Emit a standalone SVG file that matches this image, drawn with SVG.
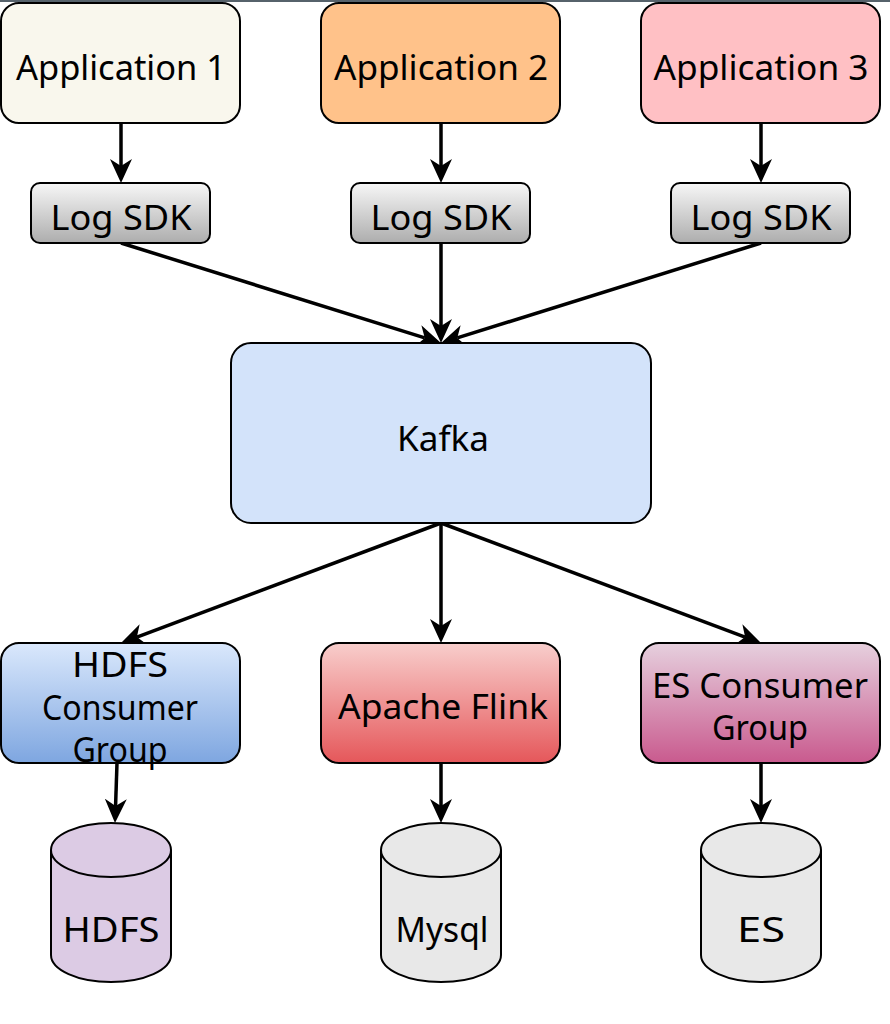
<svg xmlns="http://www.w3.org/2000/svg" width="890" height="1024" viewBox="0 0 890 1024">
<defs>
<linearGradient id="gSdk" x1="0" y1="0" x2="0" y2="1"><stop offset="0" stop-color="#f7f7f7"/><stop offset="1" stop-color="#adadad"/></linearGradient>
<linearGradient id="gHdfs" x1="0" y1="0" x2="0" y2="1"><stop offset="0" stop-color="#dae8fc"/><stop offset="1" stop-color="#7ea6e0"/></linearGradient>
<linearGradient id="gFlink" x1="0" y1="0" x2="0" y2="1"><stop offset="0" stop-color="#f8cecc"/><stop offset="1" stop-color="#e5575a"/></linearGradient>
<linearGradient id="gEs" x1="0" y1="0" x2="0" y2="1"><stop offset="0" stop-color="#e6d0de"/><stop offset="1" stop-color="#c95a8e"/></linearGradient>
<marker id="arr" markerUnits="userSpaceOnUse" viewBox="0 0 24 22" markerWidth="24" markerHeight="22" refX="7" refY="11" orient="auto">
<path d="M0,0 L24,11 L0,22 L7,11 Z" fill="#000"/>
</marker>
</defs>
<style>
.box{stroke:#000;stroke-width:2}
.t{font-family:"Noto Sans","DejaVu Sans",sans-serif;font-size:34px;fill:#000;text-anchor:middle}
.e{stroke:#000;stroke-width:3.5;fill:none;marker-end:url(#arr)}
</style>
<rect x="0" y="0" width="890" height="2" fill="#56626b"/>

<g id="connectors">
<line class="e" x1="121" y1="123" x2="121" y2="166"/>
<line class="e" x1="441" y1="123" x2="441" y2="166"/>
<line class="e" x1="761" y1="123" x2="761" y2="166"/>
<line class="e" x1="121" y1="243" x2="424.77" y2="337.93"/>
<line class="e" x1="441" y1="243" x2="441" y2="326"/>
<line class="e" x1="761" y1="243" x2="457.23" y2="337.93"/>
<line class="e" x1="441" y1="523" x2="136.92" y2="637.03"/>
<line class="e" x1="441" y1="523" x2="441" y2="626"/>
<line class="e" x1="441" y1="523" x2="745.08" y2="637.03"/>
</g>

<g id="app1"><rect class="box" x="1" y="3" width="239" height="120" rx="18" fill="#f9f7ed"/><text class="t" x="121" y="80" textLength="210" lengthAdjust="spacingAndGlyphs">Application 1</text></g>
<g id="app2"><rect class="box" x="321" y="3" width="239" height="120" rx="18" fill="#ffc28a"/><text class="t" x="441" y="80" textLength="214" lengthAdjust="spacingAndGlyphs">Application 2</text></g>
<g id="app3"><rect class="box" x="641" y="3" width="239" height="120" rx="18" fill="#ffc0c4"/><text class="t" x="761" y="80" textLength="215" lengthAdjust="spacingAndGlyphs">Application 3</text></g>

<g id="sdk1"><rect class="box" x="31" y="183" width="179" height="60" rx="9" fill="url(#gSdk)"/><text class="t" x="121" y="230" textLength="141" lengthAdjust="spacingAndGlyphs">Log SDK</text></g>
<g id="sdk2"><rect class="box" x="351" y="183" width="179" height="60" rx="9" fill="url(#gSdk)"/><text class="t" x="441" y="230" textLength="141" lengthAdjust="spacingAndGlyphs">Log SDK</text></g>
<g id="sdk3"><rect class="box" x="671" y="183" width="179" height="60" rx="9" fill="url(#gSdk)"/><text class="t" x="761" y="230" textLength="141" lengthAdjust="spacingAndGlyphs">Log SDK</text></g>

<g id="kafka"><rect class="box" x="231" y="343" width="420" height="180" rx="20" fill="#d3e3fa"/><text class="t" x="443" y="451" textLength="92" lengthAdjust="spacingAndGlyphs">Kafka</text></g>

<g id="hdfsConsumer"><rect class="box" x="1" y="643" width="239" height="120" rx="18" fill="url(#gHdfs)"/>
<text class="t" x="120" y="677" textLength="96" lengthAdjust="spacingAndGlyphs">HDFS</text>
<text class="t" x="120" y="720" textLength="156" lengthAdjust="spacingAndGlyphs">Consumer</text>
<text class="t" x="120" y="762" textLength="95" lengthAdjust="spacingAndGlyphs">Group</text></g>
<g id="flink"><rect class="box" x="321" y="643" width="239" height="120" rx="18" fill="url(#gFlink)"/><text class="t" x="443" y="719" textLength="210" lengthAdjust="spacingAndGlyphs">Apache Flink</text></g>
<g id="esConsumer"><rect class="box" x="641" y="643" width="239" height="120" rx="18" fill="url(#gEs)"/>
<text class="t" x="760" y="698" textLength="216" lengthAdjust="spacingAndGlyphs">ES Consumer</text>
<text class="t" x="760" y="740" textLength="96" lengthAdjust="spacingAndGlyphs">Group</text></g>

<g id="connectors2">
<line class="e" x1="117" y1="763" x2="115.57" y2="806"/>
<line class="e" x1="441" y1="763" x2="441" y2="806"/>
<line class="e" x1="761" y1="763" x2="761" y2="806"/>
</g>

<g id="hdfs"><path class="box" d="M51,850 A60,27 0 0 1 171,850 L171,955 A60,27 0 0 1 51,955 Z" fill="#dccbe4"/><path d="M51,850 A60,27 0 0 0 171,850" fill="none" stroke="#000" stroke-width="2"/><text class="t" x="111" y="942" textLength="97" lengthAdjust="spacingAndGlyphs">HDFS</text></g>
<g id="mysql"><path class="box" d="M381,850 A60,27 0 0 1 501,850 L501,955 A60,27 0 0 1 381,955 Z" fill="#e8e8e8"/><path d="M381,850 A60,27 0 0 0 501,850" fill="none" stroke="#000" stroke-width="2"/><text class="t" x="442" y="942" textLength="93" lengthAdjust="spacingAndGlyphs">Mysql</text></g>
<g id="es"><path class="box" d="M701,850 A60,27 0 0 1 821,850 L821,955 A60,27 0 0 1 701,955 Z" fill="#e8e8e8"/><path d="M701,850 A60,27 0 0 0 821,850" fill="none" stroke="#000" stroke-width="2"/><text class="t" x="761" y="942" textLength="48" lengthAdjust="spacingAndGlyphs">ES</text></g>
</svg>
